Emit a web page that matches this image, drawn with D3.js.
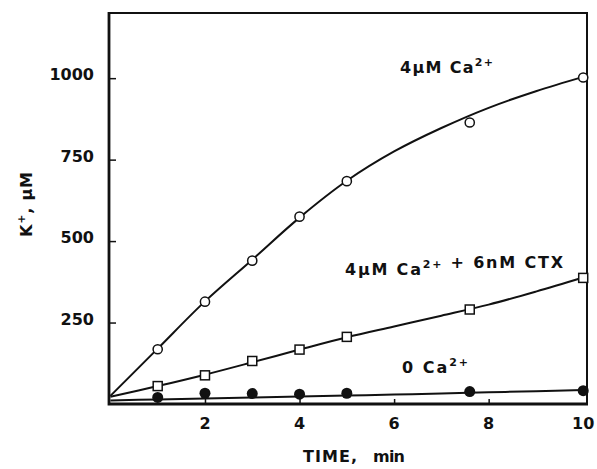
<!DOCTYPE html>
<html>
<head>
<meta charset="utf-8">
<script src="https://cdn.jsdelivr.net/npm/d3@7"></script>
<style>
  body { margin: 0; background: #fff; }
  svg text { font-family: "DejaVu Sans", "Liberation Sans", Arial, sans-serif; font-weight: bold; fill: #111; }
</style>
</head>
<body>
<div id="chart"></div>
<script>
// measured points (min, uM K+)
const times = [1, 2, 3, 4, 5, 7.6, 10];
const caPoints = [168, 314, 440, 575, 684, 864, 1002];
const ctxPoints = [55, 88, 132, 167, 206, 290, 387];
const zeroPoints = [20, 33, 32, 30, 33, 38, 41];

// hand-drawn fitted curves
const fitTimes = [0, 1, 2, 3, 4, 5, 6, 7, 8, 9, 10];
const caFit = [25, 170, 315, 443, 572, 685, 775, 847, 909, 960, 1004];
const ctxFit = [22, 55, 90, 128, 167, 205, 238, 271, 305, 345, 388];
const zeroFit = [11, 14, 17, 20, 23, 26, 29, 32, 36, 39, 43];

const yTicks = [250, 500, 750, 1000];
const xTicks = [2, 4, 6, 8, 10];

const width = 597, height = 469;

const svg = d3.select("#chart")
    .append("svg")
    .attr("width", width)
    .attr("height", height);

const x = d3.scaleLinear().domain([-0.03, 10.08]).range([109, 587]);
const y = d3.scaleLinear().domain([0, 1200]).range([404, 13]);

// frame: heavier left/bottom, like the print
const x0 = x(-0.03), x1 = x(10.08), yTop = y(1200), yBot = y(0);
svg.append("path")
    .attr("d", `M${x0},${yTop}H${x1}V${yBot}`)
    .attr("fill", "none")
    .attr("stroke", "#111")
    .attr("stroke-width", 2);
svg.append("path")
    .attr("d", `M${x0},${yTop - 1}V${yBot}H${x1 + 1}`)
    .attr("fill", "none")
    .attr("stroke", "#111")
    .attr("stroke-width", 2.8);

// inward ticks
svg.append("g")
    .attr("transform", `translate(${x0},0)`)
    .call(d3.axisRight(y).tickValues(yTicks).tickSize(7).tickFormat(""))
    .call(g => g.select(".domain").remove())
    .selectAll("line").attr("stroke", "#111").attr("stroke-width", 1.5);

svg.append("g")
    .attr("transform", `translate(0,${yBot})`)
    .call(d3.axisTop(x).tickValues([2, 4, 6, 8]).tickSize(5).tickFormat(""))
    .call(g => g.select(".domain").remove())
    .selectAll("line").attr("stroke", "#111").attr("stroke-width", 1.5);

// tick labels
svg.append("g").selectAll("text")
    .data(yTicks)
    .join("text")
    .attr("x", 94)
    .attr("y", d => y(d) + 2)
    .attr("text-anchor", "end")
    .attr("font-size", 16)
    .text(d => d);

svg.append("g").selectAll("text")
    .data(xTicks)
    .join("text")
    .attr("x", d => x(d))
    .attr("y", 429)
    .attr("text-anchor", "middle")
    .attr("font-size", 16)
    .text(d => d);

// axis titles
svg.append("text")
    .attr("x", 303)
    .attr("y", 462)
    .attr("font-size", 16)
    .attr("textLength", 54)
    .attr("lengthAdjust", "spacing")
    .text("TIME,");
svg.append("text")
    .attr("x", 373)
    .attr("y", 462)
    .attr("font-size", 16)
    .attr("textLength", 32)
    .attr("lengthAdjust", "spacing")
    .text("min");

const yTitle = svg.append("text")
    .attr("transform", "translate(32,237) rotate(-90)")
    .attr("font-size", 16)
    .attr("textLength", 65)
    .attr("lengthAdjust", "spacing");
yTitle.append("tspan").text("K");
yTitle.append("tspan").attr("dy", -7).attr("font-size", 11).text("+");
yTitle.append("tspan").attr("dy", 7).text(", µM");

// curves
const line = d3.line()
    .x(d => x(d[0]))
    .y(d => y(d[1]))
    .curve(d3.curveCatmullRom.alpha(0.5));

[caFit, ctxFit, zeroFit].forEach(vals => {
  svg.append("path")
      .datum(fitTimes.map((t, i) => [t, vals[i]]))
      .attr("d", line)
      .attr("fill", "none")
      .attr("stroke", "#111")
      .attr("stroke-width", 2);
});

// markers
svg.append("g").selectAll("rect")
    .data(times.map((t, i) => [t, ctxPoints[i]]))
    .join("rect")
    .attr("x", d => x(d[0]) - 4.5)
    .attr("y", d => y(d[1]) - 4.5)
    .attr("width", 9)
    .attr("height", 9)
    .attr("fill", "#fff")
    .attr("stroke", "#111")
    .attr("stroke-width", 1.5);

svg.append("g").selectAll("circle")
    .data(times.map((t, i) => [t, caPoints[i]]))
    .join("circle")
    .attr("cx", d => x(d[0]))
    .attr("cy", d => y(d[1]))
    .attr("r", 4.6)
    .attr("fill", "#fff")
    .attr("stroke", "#111")
    .attr("stroke-width", 1.5);

svg.append("g").selectAll("circle")
    .data(times.map((t, i) => [t, zeroPoints[i]]))
    .join("circle")
    .attr("cx", d => x(d[0]))
    .attr("cy", d => y(d[1]))
    .attr("r", 5.5)
    .attr("fill", "#111");

// curve labels
function label(xp, yp, len, parts) {
  const t = svg.append("text")
      .attr("x", xp)
      .attr("y", yp)
      .attr("font-size", 16)
      .attr("textLength", len)
      .attr("lengthAdjust", "spacing");
  parts.forEach(p => {
    if (p.sup) {
      t.append("tspan").attr("dy", -7).attr("font-size", 11).text(p.sup);
      t.append("tspan").attr("dy", 7).attr("font-size", 16).text("");
    } else {
      t.append("tspan").text(p.text);
    }
  });
}

label(400, 73, 93, [{text: "4µM Ca"}, {sup: "2+"}]);
label(345, 275, 218, [{text: "4µM Ca"}, {sup: "2+"}, {text: " + 6nM CTX"}]);
label(402, 373, 66, [{text: "0 Ca"}, {sup: "2+"}]);
</script>
</body>
</html>
